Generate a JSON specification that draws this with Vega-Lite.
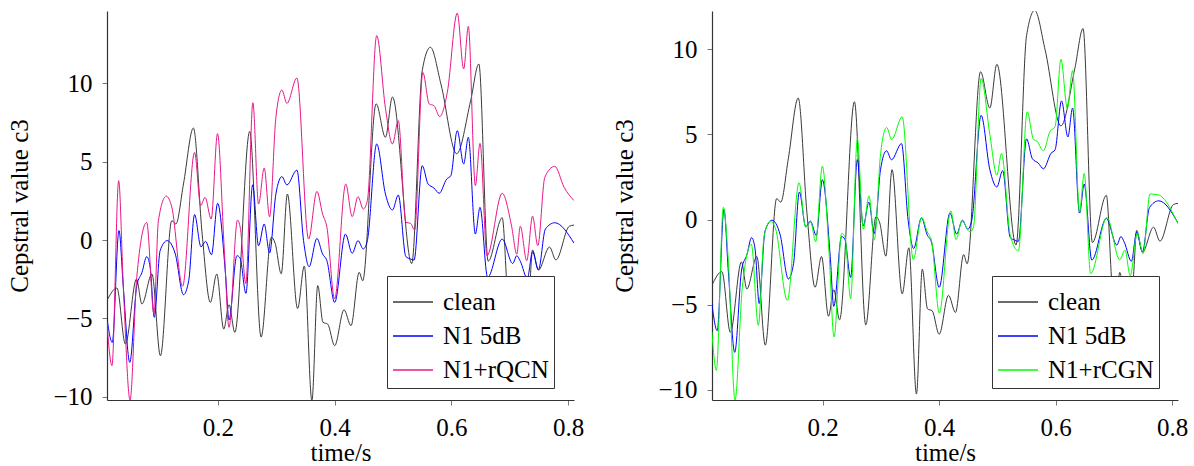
{
 "$schema": "https://vega.github.io/schema/vega-lite/v6.json",
 "background": "white",
 "padding": {"left": 7, "top": 11, "right": 0, "bottom": 0},
 "config": {
  "font": "Liberation Serif",
  "view": {"stroke": null},
  "axis": {"labelFont": "Liberation Serif", "titleFont": "Liberation Serif", "labelFontSize": 25, "titleFontSize": 25, "titleFontWeight": "normal", "labelColor": "black", "titleColor": "black", "domainColor": "#333", "domainWidth": 1.2, "tickColor": "#777", "grid": false, "tickSize": 5, "labelPadding": 10},
  "axisY": {"titlePadding": 20},
  "axisX": {"titlePadding": 0},
  "legend": {"orient": "none", "legendX": 280, "legendY": 265, "strokeColor": "#333", "fillColor": "white", "padding": 5, "symbolType": "stroke", "symbolStrokeWidth": 1.6, "symbolSize": 1600, "labelFont": "Liberation Serif", "labelFontSize": 25, "labelColor": "black", "rowPadding": 0, "labelOffset": 9, "title": null},
  "concat": {"spacing": 28}
 },
 "datasets": {
  "base": [
   {"s":"clean","t":0.0098,"v":-3.87},{"s":"clean","t":0.027,"v":-3.06},{"s":"clean","t":0.0415,"v":-6.63},{"s":"clean","t":0.0605,"v":-2.49},{"s":"clean","t":0.0698,"v":-4.08},{"s":"clean","t":0.087,"v":-2.17},{"s":"clean","t":0.1015,"v":-7.38},{"s":"clean","t":0.121,"v":1.23},{"s":"clean","t":0.128,"v":1.02},{"s":"clean","t":0.141,"v":3.57},{"s":"clean","t":0.158,"v":7.14},{"s":"clean","t":0.173,"v":0.38},{"s":"clean","t":0.187,"v":-3.98},{"s":"clean","t":0.198,"v":-2.17},{"s":"clean","t":0.21,"v":-5.68},{"s":"clean","t":0.219,"v":-4.12},{"s":"clean","t":0.229,"v":-5.89},{"s":"clean","t":0.2545,"v":6.92},{"s":"clean","t":0.274,"v":-6.19},{"s":"clean","t":0.2915,"v":0.17},{"s":"clean","t":0.298,"v":-0.2},{"s":"clean","t":0.3085,"v":-2.15},{"s":"clean","t":0.319,"v":2.93},{"s":"clean","t":0.3365,"v":-4.37},{"s":"clean","t":0.348,"v":-1.66},{"s":"clean","t":0.361,"v":-10.25},{"s":"clean","t":0.371,"v":-2.91},{"s":"clean","t":0.38,"v":-5.25},{"s":"clean","t":0.388,"v":-5.36},{"s":"clean","t":0.4,"v":-6.74},{"s":"clean","t":0.416,"v":-4.45},{"s":"clean","t":0.428,"v":-5.46},{"s":"clean","t":0.442,"v":-2.06},{"s":"clean","t":0.448,"v":-2.6},{"s":"clean","t":0.471,"v":8.68},{"s":"clean","t":0.487,"v":6.55},{"s":"clean","t":0.499,"v":9.12},{"s":"clean","t":0.532,"v":-1.5},{"s":"clean","t":0.55,"v":10.8},{"s":"clean","t":0.564,"v":12.29},{"s":"clean","t":0.582,"v":9.95},{"s":"clean","t":0.609,"v":5.5},{"s":"clean","t":0.633,"v":8.89},{"s":"clean","t":0.647,"v":11.22},{"s":"clean","t":0.663,"v":-1.35},{"s":"clean","t":0.687,"v":1.42},{"s":"clean","t":0.697,"v":-4.0},{"s":"clean","t":0.703,"v":-5.5},{"s":"clean","t":0.71,"v":-3.1},{"s":"clean","t":0.72,"v":-5.0},{"s":"clean","t":0.733,"v":-3.5},{"s":"clean","t":0.739,"v":-0.63},{"s":"clean","t":0.749,"v":-1.92},{"s":"clean","t":0.768,"v":-0.45},{"s":"clean","t":0.779,"v":-1.27},{"s":"clean","t":0.802,"v":0.88},{"s":"clean","t":0.81,"v":0.95},
   {"s":"N1 5dB","t":0.0098,"v":-4.93},{"s":"N1 5dB","t":0.019,"v":-6.53},{"s":"N1 5dB","t":0.0305,"v":0.6},{"s":"N1 5dB","t":0.038,"v":-3.02},{"s":"N1 5dB","t":0.049,"v":-7.8},{"s":"N1 5dB","t":0.061,"v":-2.91},{"s":"N1 5dB","t":0.07,"v":-2.06},{"s":"N1 5dB","t":0.078,"v":-1.06},{"s":"N1 5dB","t":0.084,"v":-1.74},{"s":"N1 5dB","t":0.091,"v":-4.93},{"s":"N1 5dB","t":0.101,"v":-0.68},{"s":"N1 5dB","t":0.113,"v":-0.04},{"s":"N1 5dB","t":0.127,"v":-0.89},{"s":"N1 5dB","t":0.141,"v":-3.49},{"s":"N1 5dB","t":0.15,"v":-2.59},{"s":"N1 5dB","t":0.16,"v":1.62},{"s":"N1 5dB","t":0.171,"v":-0.43},{"s":"N1 5dB","t":0.179,"v":-0.09},{"s":"N1 5dB","t":0.189,"v":-0.94},{"s":"N1 5dB","t":0.1995,"v":2.34},{"s":"N1 5dB","t":0.213,"v":-2.17},{"s":"N1 5dB","t":0.219,"v":-5.1},{"s":"N1 5dB","t":0.2325,"v":-1.0},{"s":"N1 5dB","t":0.238,"v":-1.15},{"s":"N1 5dB","t":0.248,"v":-3.4},{"s":"N1 5dB","t":0.2595,"v":3.52},{"s":"N1 5dB","t":0.2696,"v":-0.37},{"s":"N1 5dB","t":0.2793,"v":1.02},{"s":"N1 5dB","t":0.2885,"v":-0.83},{"s":"N1 5dB","t":0.2993,"v":2.93},{"s":"N1 5dB","t":0.3096,"v":4.04},{"s":"N1 5dB","t":0.3182,"v":3.51},{"s":"N1 5dB","t":0.3353,"v":4.46},{"s":"N1 5dB","t":0.3467,"v":-0.04},{"s":"N1 5dB","t":0.3562,"v":-1.7},{"s":"N1 5dB","t":0.3696,"v":0.1},{"s":"N1 5dB","t":0.3793,"v":-0.89},{"s":"N1 5dB","t":0.3867,"v":-1.32},{"s":"N1 5dB","t":0.4,"v":-3.98},{"s":"N1 5dB","t":0.4185,"v":0.38},{"s":"N1 5dB","t":0.43,"v":-0.85},{"s":"N1 5dB","t":0.44,"v":-0.04},{"s":"N1 5dB","t":0.449,"v":-0.57},{"s":"N1 5dB","t":0.456,"v":-0.04},{"s":"N1 5dB","t":0.472,"v":6.12},{"s":"N1 5dB","t":0.487,"v":2.93},{"s":"N1 5dB","t":0.499,"v":1.91},{"s":"N1 5dB","t":0.509,"v":2.87},{"s":"N1 5dB","t":0.522,"v":-1.06},{"s":"N1 5dB","t":0.53,"v":-1.21},{"s":"N1 5dB","t":0.536,"v":-1.28},{"s":"N1 5dB","t":0.55,"v":4.74},{"s":"N1 5dB","t":0.56,"v":3.57},{"s":"N1 5dB","t":0.57,"v":3.32},{"s":"N1 5dB","t":0.579,"v":2.98},{"s":"N1 5dB","t":0.592,"v":3.89},{"s":"N1 5dB","t":0.599,"v":4.1},{"s":"N1 5dB","t":0.61,"v":6.97},{"s":"N1 5dB","t":0.621,"v":4.85},{"s":"N1 5dB","t":0.629,"v":6.55},{"s":"N1 5dB","t":0.641,"v":0.38},{"s":"N1 5dB","t":0.649,"v":2.08},{"s":"N1 5dB","t":0.662,"v":-2.38},{"s":"N1 5dB","t":0.687,"v":0.06},{"s":"N1 5dB","t":0.705,"v":-1.5},{"s":"N1 5dB","t":0.712,"v":-1.0},{"s":"N1 5dB","t":0.718,"v":-1.35},{"s":"N1 5dB","t":0.73,"v":-2.45},{"s":"N1 5dB","t":0.739,"v":-0.75},{"s":"N1 5dB","t":0.749,"v":-1.9},{"s":"N1 5dB","t":0.761,"v":0.7},{"s":"N1 5dB","t":0.777,"v":1.1},{"s":"N1 5dB","t":0.81,"v":-0.2}
  ],
  "qcn": [
   {"s":"N1+rQCN","t":0.0098,"v":-5.2},{"s":"N1+rQCN","t":0.0185,"v":-8.01},{"s":"N1+rQCN","t":0.03,"v":3.78},{"s":"N1+rQCN","t":0.038,"v":-3.02},{"s":"N1+rQCN","t":0.0495,"v":-10.2},{"s":"N1+rQCN","t":0.061,"v":-2.38},{"s":"N1+rQCN","t":0.078,"v":1.12},{"s":"N1+rQCN","t":0.0905,"v":-4.72},{"s":"N1+rQCN","t":0.098,"v":1.23},{"s":"N1+rQCN","t":0.1115,"v":2.8},{"s":"N1+rQCN","t":0.121,"v":2.1},{"s":"N1+rQCN","t":0.1395,"v":-2.95},{"s":"N1+rQCN","t":0.16,"v":5.59},{"s":"N1+rQCN","t":0.1705,"v":2.2},{"s":"N1+rQCN","t":0.178,"v":2.72},{"s":"N1+rQCN","t":0.1885,"v":1.34},{"s":"N1+rQCN","t":0.1993,"v":6.78},{"s":"N1+rQCN","t":0.211,"v":-0.68},{"s":"N1+rQCN","t":0.219,"v":-5.57},{"s":"N1+rQCN","t":0.2336,"v":1.27},{"s":"N1+rQCN","t":0.2382,"v":0.81},{"s":"N1+rQCN","t":0.2479,"v":-2.78},{"s":"N1+rQCN","t":0.2599,"v":8.75},{"s":"N1+rQCN","t":0.2696,"v":2.29},{"s":"N1+rQCN","t":0.2793,"v":4.59},{"s":"N1+rQCN","t":0.2885,"v":1.48},{"s":"N1+rQCN","t":0.2993,"v":7.82},{"s":"N1+rQCN","t":0.3096,"v":9.56},{"s":"N1+rQCN","t":0.3182,"v":8.71},{"s":"N1+rQCN","t":0.3353,"v":10.33},{"s":"N1+rQCN","t":0.3553,"v":0.06},{"s":"N1+rQCN","t":0.3696,"v":3.1},{"s":"N1+rQCN","t":0.3793,"v":1.66},{"s":"N1+rQCN","t":0.3867,"v":0.81},{"s":"N1+rQCN","t":0.3999,"v":-3.76},{"s":"N1+rQCN","t":0.419,"v":3.57},{"s":"N1+rQCN","t":0.43,"v":1.49},{"s":"N1+rQCN","t":0.44,"v":2.76},{"s":"N1+rQCN","t":0.449,"v":1.98},{"s":"N1+rQCN","t":0.456,"v":2.51},{"s":"N1+rQCN","t":0.472,"v":13.03},{"s":"N1+rQCN","t":0.487,"v":8.4},{"s":"N1+rQCN","t":0.499,"v":6.12},{"s":"N1+rQCN","t":0.509,"v":7.61},{"s":"N1+rQCN","t":0.522,"v":1.13},{"s":"N1+rQCN","t":0.53,"v":1.06},{"s":"N1+rQCN","t":0.537,"v":0.64},{"s":"N1+rQCN","t":0.551,"v":10.69},{"s":"N1+rQCN","t":0.562,"v":8.67},{"s":"N1+rQCN","t":0.57,"v":8.57},{"s":"N1+rQCN","t":0.58,"v":7.87},{"s":"N1+rQCN","t":0.593,"v":9.42},{"s":"N1+rQCN","t":0.61,"v":14.46},{"s":"N1+rQCN","t":0.621,"v":10.91},{"s":"N1+rQCN","t":0.629,"v":13.61},{"s":"N1+rQCN","t":0.641,"v":3.47},{"s":"N1+rQCN","t":0.649,"v":6.16},{"s":"N1+rQCN","t":0.661,"v":-1.0},{"s":"N1+rQCN","t":0.687,"v":2.98},{"s":"N1+rQCN","t":0.703,"v":0.9},{"s":"N1+rQCN","t":0.712,"v":-0.9},{"s":"N1+rQCN","t":0.718,"v":0.88},{"s":"N1+rQCN","t":0.729,"v":-1.32},{"s":"N1+rQCN","t":0.739,"v":1.52},{"s":"N1+rQCN","t":0.748,"v":-0.36},{"s":"N1+rQCN","t":0.76,"v":4.0},{"s":"N1+rQCN","t":0.777,"v":4.7},{"s":"N1+rQCN","t":0.793,"v":3.36},{"s":"N1+rQCN","t":0.81,"v":2.51}
  ],
  "cgn": [
   {"s":"N1+rCGN","t":0.0098,"v":-6.61},{"s":"N1+rCGN","t":0.0175,"v":-8.86},{"s":"N1+rCGN","t":0.0295,"v":0.72},{"s":"N1+rCGN","t":0.038,"v":-2.4},{"s":"N1+rCGN","t":0.0495,"v":-10.6},{"s":"N1+rCGN","t":0.0621,"v":-3.96},{"s":"N1+rCGN","t":0.0775,"v":-1.45},{"s":"N1+rCGN","t":0.0896,"v":-6.22},{"s":"N1+rCGN","t":0.0993,"v":-1.02},{"s":"N1+rCGN","t":0.11,"v":-0.1},{"s":"N1+rCGN","t":0.119,"v":-0.53},{"s":"N1+rCGN","t":0.1393,"v":-4.75},{"s":"N1+rCGN","t":0.1594,"v":2.16},{"s":"N1+rCGN","t":0.1708,"v":-0.43},{"s":"N1+rCGN","t":0.1794,"v":-0.14},{"s":"N1+rCGN","t":0.188,"v":-1.31},{"s":"N1+rCGN","t":0.1994,"v":3.14},{"s":"N1+rCGN","t":0.211,"v":-2.0},{"s":"N1+rCGN","t":0.2195,"v":-6.9},{"s":"N1+rCGN","t":0.2326,"v":-0.82},{"s":"N1+rCGN","t":0.2383,"v":-1.02},{"s":"N1+rCGN","t":0.248,"v":-4.65},{"s":"N1+rCGN","t":0.2595,"v":4.76},{"s":"N1+rCGN","t":0.2698,"v":-0.57},{"s":"N1+rCGN","t":0.2795,"v":1.39},{"s":"N1+rCGN","t":0.2886,"v":-1.18},{"s":"N1+rCGN","t":0.2995,"v":3.88},{"s":"N1+rCGN","t":0.3098,"v":5.41},{"s":"N1+rCGN","t":0.3184,"v":4.7},{"s":"N1+rCGN","t":0.3365,"v":6.04},{"s":"N1+rCGN","t":0.3556,"v":-2.35},{"s":"N1+rCGN","t":0.3699,"v":0.12},{"s":"N1+rCGN","t":0.3796,"v":-0.73},{"s":"N1+rCGN","t":0.387,"v":-1.25},{"s":"N1+rCGN","t":0.4002,"v":-5.49},{"s":"N1+rCGN","t":0.42,"v":0.51},{"s":"N1+rCGN","t":0.429,"v":-1.18},{"s":"N1+rCGN","t":0.439,"v":-0.08},{"s":"N1+rCGN","t":0.453,"v":-0.73},{"s":"N1+rCGN","t":0.459,"v":-0.43},{"s":"N1+rCGN","t":0.472,"v":8.29},{"s":"N1+rCGN","t":0.487,"v":5.0},{"s":"N1+rCGN","t":0.499,"v":2.61},{"s":"N1+rCGN","t":0.507,"v":3.88},{"s":"N1+rCGN","t":0.522,"v":-0.92},{"s":"N1+rCGN","t":0.536,"v":-1.84},{"s":"N1+rCGN","t":0.551,"v":6.33},{"s":"N1+rCGN","t":0.562,"v":4.71},{"s":"N1+rCGN","t":0.568,"v":4.6},{"s":"N1+rCGN","t":0.579,"v":4.04},{"s":"N1+rCGN","t":0.59,"v":5.16},{"s":"N1+rCGN","t":0.599,"v":5.45},{"s":"N1+rCGN","t":0.609,"v":9.41},{"s":"N1+rCGN","t":0.62,"v":6.53},{"s":"N1+rCGN","t":0.629,"v":8.75},{"s":"N1+rCGN","t":0.641,"v":0.45},{"s":"N1+rCGN","t":0.649,"v":2.71},{"s":"N1+rCGN","t":0.66,"v":-3.18},{"s":"N1+rCGN","t":0.688,"v":0.12},{"s":"N1+rCGN","t":0.71,"v":-2.36},{"s":"N1+rCGN","t":0.719,"v":-1.8},{"s":"N1+rCGN","t":0.728,"v":-3.3},{"s":"N1+rCGN","t":0.74,"v":-0.8},{"s":"N1+rCGN","t":0.75,"v":-2.0},{"s":"N1+rCGN","t":0.762,"v":1.5},{"s":"N1+rCGN","t":0.776,"v":1.45},{"s":"N1+rCGN","t":0.81,"v":-0.25}
  ]
 },
 "hconcat": [
  {
   "width": 467, "height": 389,
   "encoding": {
    "x": {"field": "t", "type": "quantitative", "scale": {"domain": [0.01, 0.81], "nice": false, "zero": false}, "axis": {"values": [0.2, 0.4, 0.6, 0.8], "format": ".1f", "title": "time/s"}},
    "y": {"field": "v", "type": "quantitative", "scale": {"domain": [-10.2, 14.6], "nice": false, "zero": false}, "axis": {"values": [-10, -5, 0, 5, 10], "title": "Cepstral value c3"}}
   },
   "layer": [
    {"data": {"name": "base"}, "mark": {"type": "line", "clip": true, "strokeWidth": 1, "interpolate": "monotone"},
     "encoding": {"color": {"field": "s", "type": "nominal", "scale": {"domain": ["clean", "N1 5dB", "N1+rQCN"], "range": ["#3a3a3a", "#0000ff", "#e8178a"]}, "sort": null}}},
    {"data": {"name": "qcn"}, "mark": {"type": "line", "clip": true, "strokeWidth": 1, "interpolate": "monotone"},
     "encoding": {"color": {"field": "s", "type": "nominal", "scale": {"domain": ["clean", "N1 5dB", "N1+rQCN"], "range": ["#3a3a3a", "#0000ff", "#e8178a"]}, "sort": null}}},
    {"data": {"values": [{}]}, "mark": {"type": "point", "shape": "triangle-right", "filled": true, "size": 35, "opacity": 1, "fill": "#333", "strokeWidth": 0, "clip": false}, "encoding": {"x": {"datum": 0.81}, "y": {"datum": -10.2}}},
    {"data": {"values": [{}]}, "mark": {"type": "point", "shape": "triangle-up", "filled": true, "size": 35, "opacity": 1, "fill": "#333", "strokeWidth": 0, "clip": false}, "encoding": {"x": {"datum": 0.01}, "y": {"datum": 14.4}}}
   ]
  },
  {
   "width": 466, "height": 389,
   "encoding": {
    "x": {"field": "t", "type": "quantitative", "scale": {"domain": [0.01, 0.81], "nice": false, "zero": false}, "axis": {"values": [0.2, 0.4, 0.6, 0.8], "format": ".1f", "title": "time/s"}},
    "y": {"field": "v", "type": "quantitative", "scale": {"domain": [-10.6, 12.25], "nice": false, "zero": false}, "axis": {"values": [-10, -5, 0, 5, 10], "title": "Cepstral value c3"}}
   },
   "layer": [
    {"data": {"name": "base"}, "mark": {"type": "line", "clip": true, "strokeWidth": 1, "interpolate": "monotone"},
     "encoding": {"color": {"field": "s", "type": "nominal", "scale": {"domain": ["clean", "N1 5dB", "N1+rCGN"], "range": ["#3a3a3a", "#0000ff", "#00ff00"]}, "sort": null}}},
    {"data": {"name": "cgn"}, "mark": {"type": "line", "clip": true, "strokeWidth": 1, "interpolate": "monotone"},
     "encoding": {"color": {"field": "s", "type": "nominal", "scale": {"domain": ["clean", "N1 5dB", "N1+rCGN"], "range": ["#3a3a3a", "#0000ff", "#00ff00"]}, "sort": null}}},
    {"data": {"values": [{}]}, "mark": {"type": "point", "shape": "triangle-right", "filled": true, "size": 35, "opacity": 1, "fill": "#333", "strokeWidth": 0, "clip": false}, "encoding": {"x": {"datum": 0.81}, "y": {"datum": -10.6}}},
    {"data": {"values": [{}]}, "mark": {"type": "point", "shape": "triangle-up", "filled": true, "size": 35, "opacity": 1, "fill": "#333", "strokeWidth": 0, "clip": false}, "encoding": {"x": {"datum": 0.01}, "y": {"datum": 12.05}}}
   ]
  }
 ],
 "resolve": {"scale": {"color": "independent", "x": "independent", "y": "independent"}, "legend": {"color": "independent"}}
}
